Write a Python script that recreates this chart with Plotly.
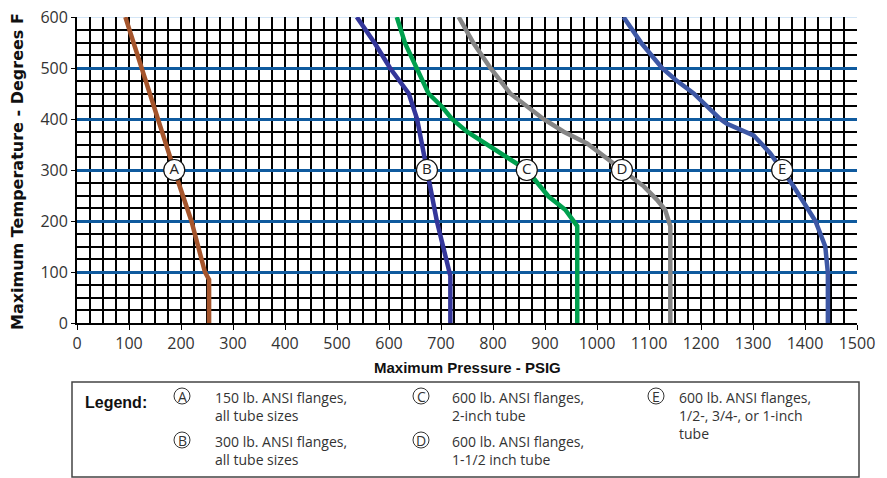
import numpy as np
import plotly.graph_objects as go

# ---------------- data ----------------
curve_keys = ["A", "B", "C", "D", "E"]
colors = ["#a5552c", "#34369a", "#00a04e", "#858585", "#3d57a5"]

temp_A = [0, 85, 100, 200, 300, 400, 500, 600]
pres_A = [254, 254, 246, 220, 187, 156, 125, 93]

temp_B = [0, 92, 200, 300, 400, 450, 477, 500, 548, 600]
pres_B = [718, 718, 692, 673, 654, 638, 618, 602, 573, 538]

temp_C = [0, 190, 222, 248, 300, 359, 375, 400, 424, 450, 500, 548, 600]
pres_C = [962, 962, 939, 907, 865, 776, 750, 721, 702, 676, 654, 631, 615]

temp_D = [0, 190, 222, 242, 268, 300, 333, 352, 375, 400, 450, 500, 548, 600]
pres_D = [1141, 1141, 1131, 1115, 1090, 1048, 1006, 981, 936, 897, 833, 795, 763, 734]

temp_E = [0, 98, 150, 200, 268, 300, 319, 333, 368, 391, 400, 450, 477, 500, 548, 600]
pres_E = [1444, 1444, 1439, 1420, 1378, 1356, 1345, 1333, 1301, 1249, 1237, 1186, 1151, 1125, 1086, 1051]

label_temp = 300

legend_title = "Legend:"
legend_texts = [
    "150 lb. ANSI flanges,<br>all tube sizes",
    "300 lb. ANSI flanges,<br>all tube sizes",
    "600 lb. ANSI flanges,<br>2-inch tube",
    "600 lb. ANSI flanges,<br>1-1/2 inch tube",
    "600 lb. ANSI flanges,<br>1/2-, 3/4-, or 1-inch<br>tube",
]

x_title = "Maximum Pressure - PSIG"
y_title = "Maximum Temperature - Degrees F"

temps = [temp_A, temp_B, temp_C, temp_D, temp_E]
press = [pres_A, pres_B, pres_C, pres_D, pres_E]

# ---------------- layout geometry ----------------
W, H = 887, 478
ML, MR, MT, MB = 77, 30, 17, 155
PW = W - ML - MR
PH = H - MT - MB


def px2x(px):
    return (px - ML) / PW


def py2y(py):
    return (MT + PH - py) / PH


fig = go.Figure()

for key, col, T, P in zip(curve_keys, colors, temps, press):
    fig.add_trace(go.Scatter(x=P, y=T, mode="lines",
                             line=dict(color=col, width=4.5),
                             hoverinfo="skip", showlegend=False))

# labels on curves
lab_x = [float(np.interp(label_temp, T, P)) for T, P in zip(temps, press)]
fig.add_trace(go.Scatter(
    x=lab_x, y=[label_temp] * len(lab_x), mode="markers+text",
    text=curve_keys, textposition="middle center",
    textfont=dict(family="Open Sans", size=15, color="#222"),
    marker=dict(size=21, color="white", line=dict(color="#111", width=1.2)),
    hoverinfo="skip", showlegend=False, cliponaxis=False))

shapes = []
# light top border line
shapes.append(dict(type="line", xref="paper", yref="y", x0=0, x1=1, y0=600, y1=600,
                   line=dict(color="white", width=3.5), layer="between"))
shapes.append(dict(type="line", xref="paper", yref="y", x0=0, x1=1, y0=600, y1=600,
                   line=dict(color="#a9cdee", width=1.2), layer="between"))
# legend box
shapes.append(dict(type="rect", xref="paper", yref="paper",
                   x0=px2x(72), x1=px2x(859), y0=py2y(477), y1=py2y(382),
                   line=dict(color="#444", width=1.5), fillcolor="rgba(0,0,0,0)"))

annotations = []
annotations.append(dict(text=x_title, xref="paper", yref="paper", x=0.5, y=py2y(367),
                        xanchor="center", yanchor="middle", showarrow=False,
                        font=dict(family="Liberation Sans", size=15, color="#111", weight="bold")))
annotations.append(dict(text=y_title, xref="paper", yref="paper", x=px2x(17), y=py2y(172),
                        xanchor="center", yanchor="middle", showarrow=False, textangle=-90,
                        font=dict(family="DejaVu Sans", size=16, color="#111", weight="bold")))
annotations.append(dict(text=legend_title, xref="paper", yref="paper", x=px2x(83), y=py2y(402),
                        xanchor="left", yanchor="middle", showarrow=False,
                        font=dict(family="Liberation Sans", size=16, color="#111", weight="bold")))

circ_pos = [(182, 396), (182, 440), (421, 396), (421, 440), (656, 396)]
text_x = [213, 213, 450, 450, 677]
for key, txt, (cx, cy), tx in zip(curve_keys, legend_texts, circ_pos, text_x):
    shapes.append(dict(type="circle", xref="paper", yref="paper",
                       xsizemode="pixel", ysizemode="pixel",
                       xanchor=px2x(cx), yanchor=py2y(cy),
                       x0=-8, x1=8, y0=-8, y1=8,
                       line=dict(color="#333", width=1), fillcolor="rgba(0,0,0,0)"))
    annotations.append(dict(text=key, xref="paper", yref="paper", x=px2x(cx), y=py2y(cy),
                            xanchor="center", yanchor="middle", showarrow=False,
                            font=dict(family="Open Sans", size=14, color="#333")))
    annotations.append(dict(text=txt, xref="paper", yref="paper", x=px2x(tx), y=py2y(cy - 10.5),
                            xanchor="left", yanchor="top", align="left", showarrow=False,
                            font=dict(family="Open Sans", size=14, color="#333")))

grid_black = "#000000"
fig.update_layout(
    width=W, height=H,
    margin=dict(l=ML, r=MR, t=MT, b=MB, autoexpand=False),
    paper_bgcolor="white", plot_bgcolor="white",
    showlegend=False,
    shapes=shapes, annotations=annotations,
    xaxis=dict(range=[0, 1500], dtick=100, tick0=0, automargin=False,
               showgrid=True, gridcolor=grid_black, gridwidth=1.8,
               minor=dict(dtick=25, showgrid=True, gridcolor=grid_black, gridwidth=1.8),
               zeroline=True, zerolinecolor=grid_black, zerolinewidth=1.8,
               showline=True, linecolor=grid_black, linewidth=1.8,
               ticks="outside", ticklen=5, tickcolor=grid_black, tickwidth=1.2,
               tickfont=dict(family="Open Sans", size=16, color="#333")),
    yaxis=dict(range=[0, 600], dtick=100, tick0=0, automargin=False,
               showgrid=True, gridcolor="#0f5a9e", gridwidth=2.8,
               minor=dict(dtick=25, showgrid=True, gridcolor=grid_black, gridwidth=1.8),
               zeroline=True, zerolinecolor=grid_black, zerolinewidth=1.8,
               showline=True, linecolor=grid_black, linewidth=1.8,
               ticks="outside", ticklen=4, tickcolor=grid_black, tickwidth=1.2,
               tickfont=dict(family="Open Sans", size=16, color="#333")),
)

fig.write_html("out.html",
               config={"displayModeBar": False},
               post_script="document.body.style.margin='0';document.body.style.overflow='hidden';")
